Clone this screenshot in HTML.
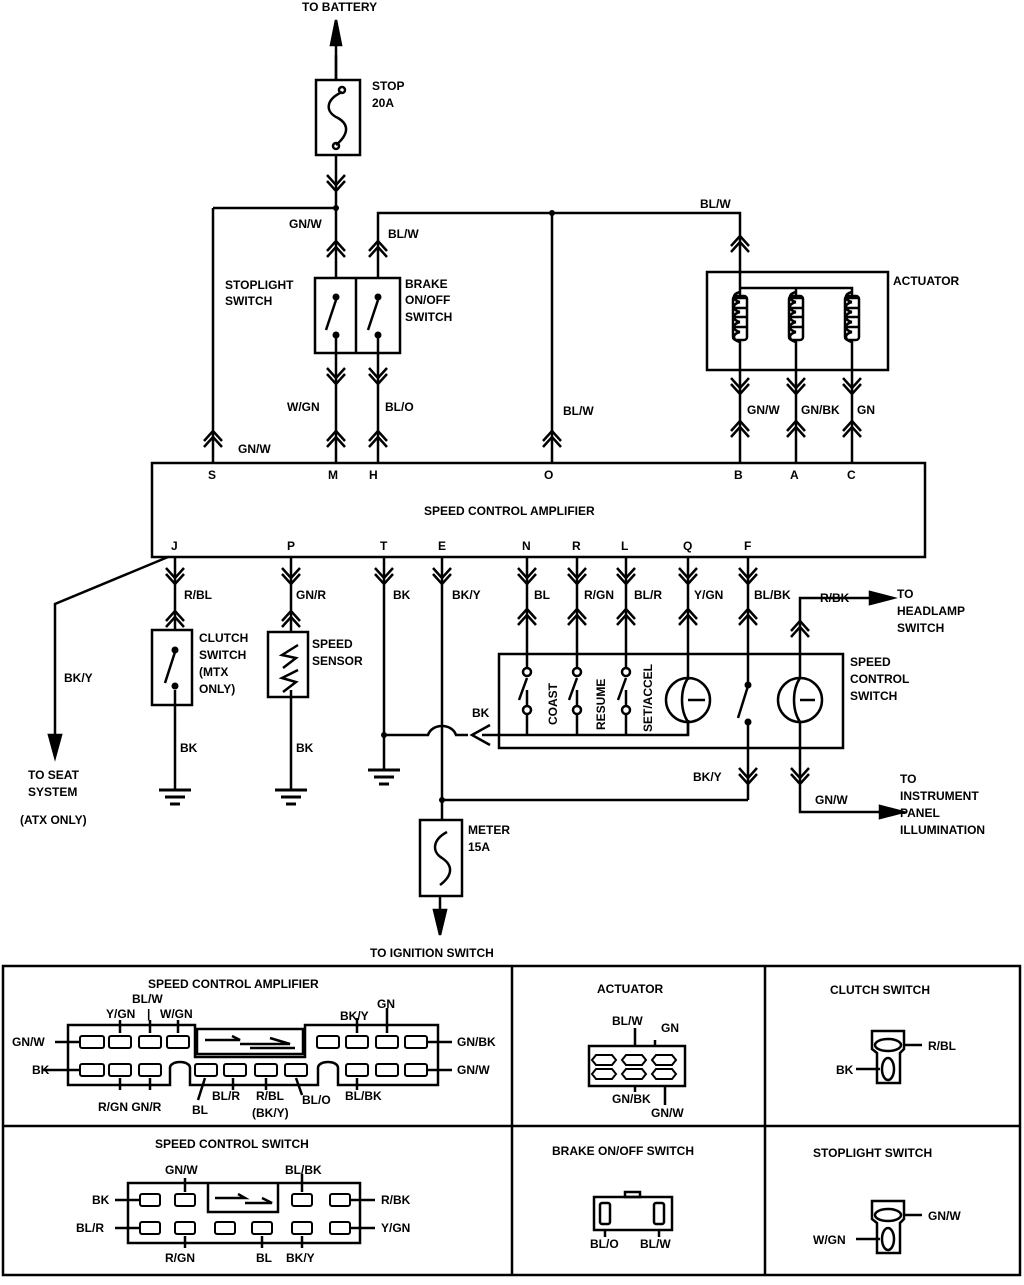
<!DOCTYPE html>
<html><head><meta charset="utf-8"><style>
html,body{margin:0;padding:0;background:#fff}
svg text{font-family:"Liberation Sans",sans-serif;font-weight:bold;font-size:12px;fill:#000}
</style></head><body>
<svg width="1024" height="1280" viewBox="0 0 1024 1280" xmlns="http://www.w3.org/2000/svg">
<defs>
<g id="cd" fill="none" stroke="#000" stroke-width="2.5"><path d="M-9,-7 L0,3 L9,-7 M-9,-1 L0,9 L9,-1"/></g>
<g id="cu" fill="none" stroke="#000" stroke-width="2.5"><path d="M-9,7 L0,-3 L9,7 M-9,1 L0,-9 L9,1"/></g>
<g id="gnd" stroke="#000" stroke-width="3"><path d="M-16,0 H16 M-10,7 H10 M-5,14 H5"/></g>
<g id="coil" fill="none" stroke="#000" stroke-width="2.5"><path d="M0,-28 C-8,-26 -8,-20 0,-18 M-6,-22 H6 M0,-18 C-8,-16 -8,-10 0,-8 M-6,-12 H6 M0,-8 C-8,-6 -8,0 0,2 M-6,-3 H6 M0,2 C-8,4 -8,10 0,12 M-6,7 H6 M0,12 C-8,14 -8,20 0,22"/><rect x="-7" y="-24" width="14" height="44" rx="3"/></g>
</defs>
<g fill="none" stroke="#000" stroke-width="2.5">
<!-- battery / stop fuse -->
<path d="M336,55 V80 M336,155 V208"/>
<path d="M336,20 L331,45 L341,45 Z" fill="#000"/>
<path d="M336,45 V80"/>
<rect x="316" y="80" width="44" height="75"/>
<path d="M342,92 C325,100 325,112 338,118 C350,125 348,135 336,145"/>
<circle cx="342" cy="90" r="3"/><circle cx="336" cy="146" r="3"/>
<!-- GN/W branch -->
<path d="M213,208 H336 M213,208 V462 M336,208 V278"/>
<!-- BL/W branch -->
<path d="M378,278 V213 H740 V272 M552,213 V462"/>
<!-- stoplight/brake box -->
<rect x="315" y="278" width="85" height="75"/><path d="M356,278 V353"/>
<path d="M336,300 L326,330 M336,336 V462"/>
<path d="M378,300 L368,330 M378,336 V462"/>
<!-- actuator -->
<rect x="707" y="272" width="181" height="98"/>
<path d="M740,272 V290 M740,288 H852 V298 M796,288 V298 M740,288 V298"/>
<path d="M740,340 V462 M796,340 V462 M852,340 V462"/>
<!-- amplifier -->
<rect x="152" y="463" width="773" height="94"/>
<!-- J -->
<path d="M168,557 L55,604 V735"/>
<path d="M55,757 L49,735 H61 Z" fill="#000"/>
<!-- clutch -->
<path d="M175,557 V630 M175,690 V790"/>
<rect x="152" y="630" width="40" height="75"/>
<path d="M175,652 L165,683"/>
<!-- sensor -->
<path d="M291,557 V632 M291,690 V790"/>
<rect x="268" y="632" width="40" height="65"/>
<path d="M298,645 L282,655 L296,658 L283,668 M298,670 L282,678 L296,682 L283,692"/>
<!-- T -->
<path d="M384,557 V770 M384,735 H428 C432,723 452,723 456,735 H468"/>
<path d="M490,725 L472,735 L490,745"/>
<path d="M482,735 H688 V720"/>
<!-- E -->
<path d="M442,557 V820 M442,800 H748"/>
<rect x="420" y="820" width="42" height="76"/>
<path d="M447,832 C432,840 432,852 442,858 C454,866 452,876 440,885"/>
<path d="M440,896 V915"/>
<path d="M440,935 L434,910 H446 Z" fill="#000"/>
<!-- speed control switch -->
<path d="M499,654 H843 V748 H499 Z"/>
<path d="M527,557 V675 M527,690 V735 M527,678 L519,700"/>
<path d="M577,557 V675 M577,690 V735 M577,678 L569,700"/>
<path d="M626,557 V675 M626,690 V735 M626,678 L618,700"/>
<path d="M688,557 V680 M688,720 V735"/>
<circle cx="688" cy="700" r="22"/>
<path d="M688,678 C680,690 680,710 688,722 M688,700 H705"/>
<path d="M748,557 V685 M748,722 V800 M748,686 L738,718"/>
<circle cx="800" cy="700" r="22"/>
<path d="M800,678 C792,690 792,710 800,722 M800,700 H815"/>
<path d="M800,678 V598 H870 M800,722 V812 H880"/>
<path d="M893,598 L870,592 V604 Z" fill="#000"/>
<path d="M903,812 L880,806 V818 Z" fill="#000"/>
</g>
<g fill="#000">
<circle cx="336" cy="208" r="3"/><circle cx="552" cy="213" r="3"/>
<circle cx="336" cy="297" r="3.5"/><circle cx="336" cy="335" r="3.5"/>
<circle cx="378" cy="297" r="3.5"/><circle cx="378" cy="335" r="3.5"/>
<circle cx="175" cy="650" r="3.5"/><circle cx="175" cy="686" r="3.5"/>
<circle cx="384" cy="735" r="3"/><circle cx="442" cy="800" r="3"/>
<circle cx="748" cy="685" r="3.5"/><circle cx="748" cy="722" r="3.5"/>
</g>
<g fill="#fff" stroke="#000" stroke-width="2.5">
<circle cx="527" cy="672" r="4"/><circle cx="527" cy="710" r="4"/>
<circle cx="577" cy="672" r="4"/><circle cx="577" cy="710" r="4"/>
<circle cx="626" cy="672" r="4"/><circle cx="626" cy="710" r="4"/>
</g>
<use href="#coil" x="740" y="320"/><use href="#coil" x="796" y="320"/><use href="#coil" x="852" y="320"/>
<!-- connectors -->
<use href="#cd" x="336" y="182"/>
<use href="#cu" x="336" y="250"/><use href="#cu" x="378" y="250"/><use href="#cu" x="740" y="245"/>
<use href="#cd" x="336" y="375"/><use href="#cd" x="378" y="375"/>
<use href="#cd" x="740" y="385"/><use href="#cd" x="796" y="385"/><use href="#cd" x="852" y="385"/>
<use href="#cu" x="213" y="440"/><use href="#cu" x="336" y="440"/><use href="#cu" x="378" y="440"/><use href="#cu" x="552" y="440"/>
<use href="#cu" x="740" y="430"/><use href="#cu" x="796" y="430"/><use href="#cu" x="852" y="430"/>
<use href="#cd" x="175" y="575"/><use href="#cd" x="291" y="575"/><use href="#cd" x="384" y="575"/><use href="#cd" x="442" y="575"/>
<use href="#cd" x="527" y="575"/><use href="#cd" x="577" y="575"/><use href="#cd" x="626" y="575"/><use href="#cd" x="688" y="575"/><use href="#cd" x="748" y="575"/>
<use href="#cu" x="175" y="620"/><use href="#cu" x="291" y="620"/>
<use href="#cu" x="527" y="618"/><use href="#cu" x="577" y="618"/><use href="#cu" x="626" y="618"/><use href="#cu" x="688" y="618"/><use href="#cu" x="748" y="618"/><use href="#cu" x="800" y="630"/>
<use href="#cd" x="748" y="775"/><use href="#cd" x="800" y="775"/>
<use href="#gnd" x="175" y="790"/><use href="#gnd" x="291" y="790"/><use href="#gnd" x="384" y="770"/>
<!-- labels -->
<text x="302" y="11">TO BATTERY</text>
<text x="372" y="90">STOP</text><text x="372" y="107">20A</text>
<text x="289" y="228">GN/W</text><text x="388" y="238">BL/W</text><text x="700" y="208">BL/W</text>
<text x="225" y="289">STOPLIGHT</text><text x="225" y="305">SWITCH</text>
<text x="405" y="288">BRAKE</text><text x="405" y="304">ON/OFF</text><text x="405" y="321">SWITCH</text>
<text x="893" y="285">ACTUATOR</text>
<text x="287" y="411">W/GN</text><text x="385" y="411">BL/O</text><text x="563" y="415">BL/W</text>
<text x="747" y="414">GN/W</text><text x="801" y="414">GN/BK</text><text x="857" y="414">GN</text>
<text x="238" y="453">GN/W</text>
<g font-size="11"><text x="208" y="479">S</text><text x="328" y="479">M</text><text x="369" y="479">H</text><text x="544" y="479">O</text><text x="734" y="479">B</text><text x="790" y="479">A</text><text x="847" y="479">C</text>
<text x="171" y="550">J</text><text x="287" y="550">P</text><text x="380" y="550">T</text><text x="438" y="550">E</text><text x="522" y="550">N</text><text x="572" y="550">R</text><text x="621" y="550">L</text><text x="683" y="550">Q</text><text x="744" y="550">F</text></g>
<text x="424" y="515" font-size="13">SPEED CONTROL AMPLIFIER</text>
<text x="184" y="599">R/BL</text><text x="296" y="599">GN/R</text><text x="393" y="599">BK</text><text x="452" y="599">BK/Y</text>
<text x="534" y="599">BL</text><text x="584" y="599">R/GN</text><text x="634" y="599">BL/R</text><text x="694" y="599">Y/GN</text><text x="754" y="599">BL/BK</text>
<text x="820" y="602">R/BK</text>
<text x="897" y="598">TO</text><text x="897" y="615">HEADLAMP</text><text x="897" y="632">SWITCH</text>
<text x="199" y="642">CLUTCH</text><text x="199" y="659">SWITCH</text><text x="199" y="676">(MTX</text><text x="199" y="693">ONLY)</text>
<text x="312" y="648">SPEED</text><text x="312" y="665">SENSOR</text>
<text x="850" y="666">SPEED</text><text x="850" y="683">CONTROL</text><text x="850" y="700">SWITCH</text>
<text x="64" y="682">BK/Y</text><text x="472" y="717">BK</text>
<text transform="translate(557,725) rotate(-90)" font-size="13">COAST</text>
<text transform="translate(605,730) rotate(-90)" font-size="13">RESUME</text>
<text transform="translate(652,732) rotate(-90)" font-size="11">SET/ACCEL</text>
<text x="180" y="752">BK</text><text x="296" y="752">BK</text>
<text x="693" y="781">BK/Y</text><text x="815" y="804">GN/W</text>
<text x="900" y="783">TO</text><text x="900" y="800">INSTRUMENT</text><text x="900" y="817">PANEL</text><text x="900" y="834">ILLUMINATION</text>
<text x="28" y="779">TO SEAT</text><text x="28" y="796">SYSTEM</text><text x="20" y="824">(ATX ONLY)</text>
<text x="468" y="834">METER</text><text x="468" y="851">15A</text>
<text x="370" y="957">TO IGNITION SWITCH</text>
<!-- bottom panels -->
<g fill="none" stroke="#000" stroke-width="2.5">
<rect x="3" y="966" width="1017" height="309"/>
<path d="M3,1126 H1020 M512,966 V1275 M765,966 V1275"/>
<!-- amp connector -->
<path d="M68,1025 H195 V1057 H305 V1025 H438 V1085 H338 V1068 C338,1060 318,1060 318,1068 V1085 H190 V1068 C190,1060 170,1060 170,1068 V1085 H68 Z"/>
<rect x="197" y="1029" width="106" height="25"/>
<path d="M205,1040 H240 L232,1036 M240,1044 H290 L270,1038 M250,1048 H295"/>
<path d="M55,1042 H80 M42,1070 H80 M427,1042 H452 M427,1070 H452 M120,1033 V1020 M150,1033 V1020 M178,1033 V1020 M357,1033 V1018 M387,1033 V1008 M120,1078 V1090 M150,1078 V1090 M205,1078 L198,1100 M233,1078 V1090 M266,1078 V1090 M296,1078 L302,1095 M357,1078 V1090"/>
<g stroke-width="2"><rect x="80" y="1036" width="24" height="12" rx="2"/><rect x="109" y="1036" width="22" height="12" rx="2"/><rect x="139" y="1036" width="22" height="12" rx="2"/><rect x="167" y="1036" width="22" height="12" rx="2"/>
<rect x="317" y="1036" width="22" height="12" rx="2"/><rect x="346" y="1036" width="22" height="12" rx="2"/><rect x="376" y="1036" width="22" height="12" rx="2"/><rect x="405" y="1036" width="22" height="12" rx="2"/>
<rect x="80" y="1064" width="24" height="12" rx="2"/><rect x="109" y="1064" width="22" height="12" rx="2"/><rect x="139" y="1064" width="22" height="12" rx="2"/><rect x="195" y="1064" width="22" height="12" rx="2"/><rect x="224" y="1064" width="22" height="12" rx="2"/><rect x="255" y="1064" width="22" height="12" rx="2"/><rect x="285" y="1064" width="22" height="12" rx="2"/><rect x="346" y="1064" width="22" height="12" rx="2"/><rect x="376" y="1064" width="22" height="12" rx="2"/><rect x="405" y="1064" width="22" height="12" rx="2"/></g>
<!-- switch connector -->
<path d="M128,1183 H360 V1243 H128 Z M208,1183 V1212 H278 V1183"/>
<path d="M215,1198 H245 L238,1194 M245,1203 H272 L262,1198"/>
<path d="M115,1200 H140 M115,1228 H140 M350,1200 H375 M350,1228 H375 M185,1192 V1178 M302,1192 V1174 M185,1236 V1248 M262,1236 V1248 M302,1236 V1248"/>
<g stroke-width="2"><rect x="140" y="1194" width="20" height="12" rx="2"/><rect x="175" y="1194" width="20" height="12" rx="2"/><rect x="292" y="1194" width="20" height="12" rx="2"/><rect x="330" y="1194" width="20" height="12" rx="2"/>
<rect x="140" y="1222" width="20" height="12" rx="2"/><rect x="175" y="1222" width="20" height="12" rx="2"/><rect x="215" y="1222" width="20" height="12" rx="2"/><rect x="252" y="1222" width="20" height="12" rx="2"/><rect x="292" y="1222" width="20" height="12" rx="2"/><rect x="330" y="1222" width="20" height="12" rx="2"/></g>
<!-- actuator connector -->
<rect x="589" y="1046" width="96" height="40"/>
<path d="M635,1028 V1046 M655,1040 V1046 M635,1086 V1092 M665,1086 V1105"/>
<g stroke-width="2"><path d="M596,1055 h16 l4,5 l-4,5 h-16 l-4,-5 z M626,1055 h16 l4,5 l-4,5 h-16 l-4,-5 z M656,1055 h16 l4,5 l-4,5 h-16 l-4,-5 z M596,1069 h16 l4,5 l-4,5 h-16 l-4,-5 z M626,1069 h16 l4,5 l-4,5 h-16 l-4,-5 z M656,1069 h16 l4,5 l-4,5 h-16 l-4,-5 z"/></g>
<!-- clutch connector -->
<path d="M872,1031 H904 V1049 L900,1053 V1083 H877 V1053 L872,1049 Z"/>
<ellipse cx="888" cy="1045" rx="13" ry="6"/><ellipse cx="888" cy="1069" rx="6" ry="11"/>
<path d="M904,1045 H922 M856,1069 H880"/>
<!-- brake connector -->
<rect x="594" y="1197" width="78" height="33"/><rect x="625" y="1192" width="15" height="5"/>
<rect x="600" y="1203" width="10" height="21" rx="2"/><rect x="654" y="1203" width="10" height="21" rx="2"/>
<path d="M605,1230 V1237 M659,1230 V1237"/>
<!-- stoplight connector -->
<path d="M872,1201 H904 V1219 L900,1223 V1253 H877 V1223 L872,1219 Z"/>
<ellipse cx="888" cy="1215" rx="13" ry="6"/><ellipse cx="888" cy="1239" rx="6" ry="11"/>
<path d="M904,1215 H922 M856,1239 H880"/>
</g>
<text x="148" y="988">SPEED CONTROL AMPLIFIER</text>
<text x="132" y="1003">BL/W</text><text x="106" y="1018">Y/GN</text><text x="147" y="1018">|</text><text x="160" y="1018">W/GN</text>
<text x="340" y="1020">BK/Y</text><text x="377" y="1008">GN</text>
<text x="12" y="1046">GN/W</text><text x="32" y="1074">BK</text><text x="457" y="1046">GN/BK</text><text x="457" y="1074">GN/W</text>
<text x="98" y="1111">R/GN GN/R</text><text x="192" y="1114">BL</text><text x="212" y="1100">BL/R</text><text x="256" y="1100">R/BL</text><text x="252" y="1117">(BK/Y)</text><text x="302" y="1104">BL/O</text><text x="345" y="1100">BL/BK</text>
<text x="155" y="1148">SPEED CONTROL SWITCH</text>
<text x="165" y="1174">GN/W</text><text x="285" y="1174">BL/BK</text>
<text x="92" y="1204">BK</text><text x="76" y="1232">BL/R</text><text x="381" y="1204">R/BK</text><text x="381" y="1232">Y/GN</text>
<text x="165" y="1262">R/GN</text><text x="256" y="1262">BL</text><text x="286" y="1262">BK/Y</text>
<text x="597" y="993">ACTUATOR</text><text x="612" y="1025">BL/W</text><text x="661" y="1032">GN</text><text x="612" y="1103">GN/BK</text><text x="651" y="1117">GN/W</text>
<text x="830" y="994">CLUTCH SWITCH</text><text x="928" y="1050">R/BL</text><text x="836" y="1074">BK</text>
<text x="552" y="1155">BRAKE ON/OFF SWITCH</text><text x="590" y="1248">BL/O</text><text x="640" y="1248">BL/W</text>
<text x="813" y="1157">STOPLIGHT SWITCH</text><text x="928" y="1220">GN/W</text><text x="813" y="1244">W/GN</text>
</svg>
</body></html>
